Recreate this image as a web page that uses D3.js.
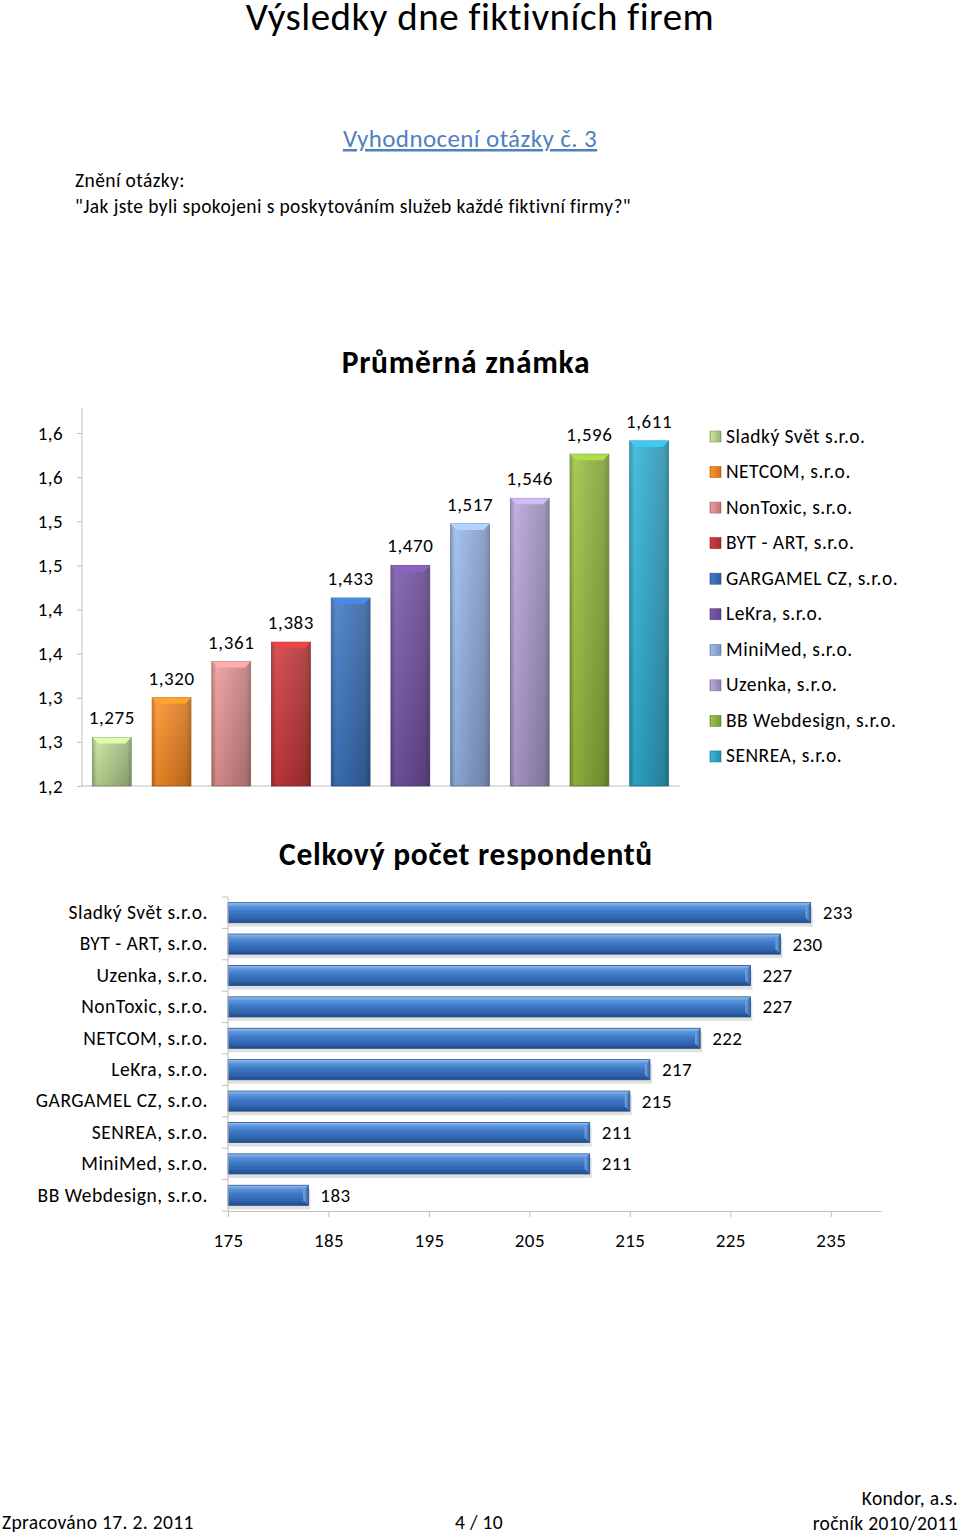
<!DOCTYPE html>
<html>
<head>
<meta charset="utf-8">
<script src="https://cdn.jsdelivr.net/npm/d3@7"></script>
<style>
  html, body { margin: 0; padding: 0; background: #fff; }
  svg { display: block; }
  text { font-family: Carlito, Lato, "Open Sans", sans-serif; fill: #000; }
</style>
</head>
<body>
<svg id="page" width="960" height="1537"></svg>
<script>
// ---------- DATA ----------
const topCategories = ["Sladký Svět s.r.o.", "NETCOM, s.r.o.", "NonToxic, s.r.o.", "BYT - ART, s.r.o.", "GARGAMEL CZ, s.r.o.", "LeKra, s.r.o.", "MiniMed, s.r.o.", "Uzenka, s.r.o.", "BB Webdesign, s.r.o.", "SENREA, s.r.o."];
const topValues = [1.275, 1.320, 1.361, 1.383, 1.433, 1.470, 1.517, 1.546, 1.596, 1.611];
const topColors = ["#b3cf8c", "#ee8424", "#d98c8c", "#c0363a", "#3a6fb6", "#70509f", "#8eaad9", "#a797c6", "#8db33c", "#2ea5c6"];
const topTicks = [1.22, 1.27, 1.32, 1.37, 1.42, 1.47, 1.52, 1.57, 1.62];

const botCategories = ["Sladký Svět s.r.o.", "BYT - ART, s.r.o.", "Uzenka, s.r.o.", "NonToxic, s.r.o.", "NETCOM, s.r.o.", "LeKra, s.r.o.", "GARGAMEL CZ, s.r.o.", "SENREA, s.r.o.", "MiniMed, s.r.o.", "BB Webdesign, s.r.o."];
const botValues = [233, 230, 227, 227, 222, 217, 215, 211, 211, 183];
const botTicks = [175, 185, 195, 205, 215, 225, 235];

// ---------- SETUP ----------
const svg = d3.select("#page");
const defs = svg.append("defs");
const fmtComma = d => d3.format(".3f")(d).replace(".", ",");
const fmtTick = d => d3.format(".1f")(d).replace(".", ",");
const FONT = "Carlito, Lato, 'Open Sans', sans-serif";
function body(sel, size, ls) {
  return sel.style("font-size", size + "px").style("letter-spacing", (ls == null ? 0.5 : ls) + "px").style("font-family", FONT);
}

// ---------- HEADER ----------
body(svg.append("text").attr("x", 480).attr("y", 30).attr("text-anchor", "middle"), 39, 0.5)
  .text("Výsledky dne fiktivních firem");
body(svg.append("text").attr("x", 470).attr("y", 147).attr("text-anchor", "middle"), 25, 0.4)
  .style("fill", "#4f81bd").style("text-decoration", "underline")
  .text("Vyhodnocení otázky č. 3");
body(svg.append("text").attr("x", 75).attr("y", 187), 19.5, 0.4).text("Znění otázky:");
body(svg.append("text").attr("x", 75).attr("y", 213), 19.5, 0.4)
  .text("\"Jak jste byli spokojeni s poskytováním služeb každé fiktivní firmy?\"");

// ---------- TOP CHART ----------
body(svg.append("text").attr("x", 466).attr("y", 373).attr("text-anchor", "middle"), 31.5, 0.7)
  .style("font-weight", "bold").text("Průměrná známka");

const x1 = d3.scaleBand().domain(topCategories).range([82, 679]).paddingInner(0.35).paddingOuter(0.175);
const y1 = d3.scaleLinear().domain([1.22, 1.62]).range([786, 433]);

topColors.forEach((c, i) => {
  const g = defs.append("linearGradient").attr("id", "vg" + i).attr("x1", 0).attr("x2", 1).attr("y1", 0).attr("y2", 0);
  g.append("stop").attr("offset", "0%").attr("stop-color", d3.color(c).darker(0.5));
  g.append("stop").attr("offset", "12%").attr("stop-color", d3.color(c).brighter(0.25));
  g.append("stop").attr("offset", "45%").attr("stop-color", c);
  g.append("stop").attr("offset", "88%").attr("stop-color", d3.color(c).darker(0.35));
  g.append("stop").attr("offset", "100%").attr("stop-color", d3.color(c).darker(0.9));
  const gv = defs.append("linearGradient").attr("id", "vs" + i).attr("x1", 0).attr("x2", 0).attr("y1", 0).attr("y2", 1);
  gv.append("stop").attr("offset", "0%").attr("stop-color", "#fff").attr("stop-opacity", 0.12);
  gv.append("stop").attr("offset", "100%").attr("stop-color", "#000").attr("stop-opacity", 0.12);
});

// axis
const yAxis1 = d3.axisLeft(y1).tickValues(topTicks).tickFormat(fmtTick).tickSize(5).tickPadding(14).tickSizeOuter(0);
const gy1 = svg.append("g").attr("transform", "translate(82,0)").call(yAxis1);
gy1.select(".domain").remove();
gy1.selectAll(".tick line").attr("stroke", "#bfbfbf");
body(gy1.selectAll(".tick text"), 19, 0.4);
svg.append("line").attr("x1", 82).attr("x2", 82).attr("y1", y1(1.648)).attr("y2", y1(1.22)).attr("stroke", "#bfbfbf");
svg.append("line").attr("x1", 82).attr("x2", 680).attr("y1", y1(1.22)).attr("y2", y1(1.22)).attr("stroke", "#bfbfbf");

const bars1 = svg.append("g").selectAll("g").data(topValues).join("g");
bars1.append("rect")
  .attr("x", (d, i) => x1(topCategories[i])).attr("width", x1.bandwidth())
  .attr("y", d => y1(d)).attr("height", d => y1(1.22) - y1(d))
  .attr("fill", (d, i) => `url(#vg${i})`)
  .attr("stroke", (d, i) => d3.color(topColors[i]).darker(1)).attr("stroke-width", 0.8);
bars1.append("rect")
  .attr("x", (d, i) => x1(topCategories[i])).attr("width", x1.bandwidth())
  .attr("y", d => y1(d)).attr("height", d => y1(1.22) - y1(d))
  .attr("fill", (d, i) => `url(#vs${i})`);
bars1.append("path")
  .attr("d", (d, i) => {
    const x0 = x1(topCategories[i]), w = x1.bandwidth(), t = y1(d), b = 6;
    return `M${x0},${t}L${x0 + w},${t}L${x0 + w - b},${t + b}L${x0 + b},${t + b}Z`;
  })
  .attr("fill", (d, i) => d3.color(topColors[i]).brighter(0.6));
body(bars1.append("text")
  .attr("x", (d, i) => x1(topCategories[i]) + x1.bandwidth() / 2)
  .attr("y", d => y1(d) - 13).attr("text-anchor", "middle"), 19, 0.6)
  .text(d => fmtComma(d));

// legend
const leg = svg.append("g").selectAll("g").data(topCategories).join("g")
  .attr("transform", (d, i) => `translate(710,${436 + i * 35.55})`);
leg.append("rect").attr("x", 0).attr("y", -5).attr("width", 11).attr("height", 11)
  .attr("fill", (d, i) => `url(#vg${i})`).attr("stroke", (d, i) => d3.color(topColors[i]).darker(0.8)).attr("stroke-width", 0.6);
body(leg.append("text").attr("x", 16).attr("y", 6.5), 19.5, 0.5).text(d => d);

// ---------- BOTTOM CHART ----------
body(svg.append("text").attr("x", 466).attr("y", 865).attr("text-anchor", "middle"), 31.5, 0.7)
  .style("font-weight", "bold").text("Celkový počet respondentů");

const x2 = d3.scaleLinear().domain([175, 240]).range([228, 881]);
const y2 = d3.scaleBand().domain(botCategories).range([897, 1211]).paddingInner(0.36).paddingOuter(0.18);

const hg = defs.append("linearGradient").attr("id", "hbar").attr("x1", 0).attr("x2", 0).attr("y1", 0).attr("y2", 1);
[["0%", "#9cc3f0"], ["18%", "#5b95dc"], ["45%", "#3f79c6"], ["80%", "#2e62ab"], ["100%", "#1f4a85"]]
  .forEach(s => hg.append("stop").attr("offset", s[0]).attr("stop-color", s[1]));
const hb = defs.append("linearGradient").attr("id", "hbev").attr("x1", 0).attr("x2", 1).attr("y1", 0).attr("y2", 0);
hb.append("stop").attr("offset", "0%").attr("stop-color", "#7fb0ea");
hb.append("stop").attr("offset", "100%").attr("stop-color", "#2c5ea3");

const bars2 = svg.append("g").selectAll("g").data(botValues).join("g");
bars2.append("rect")
  .attr("x", x2(175)).attr("y", (d, i) => y2(botCategories[i]) + 4)
  .attr("width", d => x2(d) - x2(175) + 2).attr("height", y2.bandwidth())
  .attr("fill", "#000").attr("opacity", 0.12);
bars2.append("rect")
  .attr("x", x2(175)).attr("y", (d, i) => y2(botCategories[i]))
  .attr("width", d => x2(d) - x2(175)).attr("height", y2.bandwidth())
  .attr("fill", "url(#hbar)").attr("stroke", "#234f8c").attr("stroke-width", 0.8);
bars2.append("path")
  .attr("d", (d, i) => {
    const e = x2(d), t = y2(botCategories[i]), h = y2.bandwidth(), b = 5;
    return `M${e - b},${t + b}L${e},${t}L${e},${t + h}L${e - b},${t + h - b}Z`;
  })
  .attr("fill", "url(#hbev)").attr("opacity", 0.9);
body(bars2.append("text")
  .attr("x", d => x2(d) + 12).attr("y", (d, i) => y2(botCategories[i]) + y2.bandwidth() / 2 + 6.5), 19, 0.4)
  .text(d => d);

// y axis
const gy2 = svg.append("g").attr("transform", `translate(${x2(175)},0)`)
  .call(d3.axisLeft(y2).tickSize(0).tickPadding(20));
gy2.select(".domain").remove();
body(gy2.selectAll(".tick text"), 19.5, 0.5);
svg.append("line").attr("x1", x2(175)).attr("x2", x2(175)).attr("y1", 897).attr("y2", 1211).attr("stroke", "#bfbfbf");
svg.append("g").selectAll("line").data(d3.range(botCategories.length + 1)).join("line")
  .attr("x1", x2(175) - 6).attr("x2", x2(175))
  .attr("y1", i => y2.range()[0] + i * y2.step())
  .attr("y2", i => y2.range()[0] + i * y2.step())
  .attr("stroke", "#bfbfbf");

// x axis
const gx2 = svg.append("g").attr("transform", "translate(0,1211)")
  .call(d3.axisBottom(x2).tickValues(botTicks).tickSize(6).tickPadding(17).tickSizeOuter(0));
gx2.select(".domain").attr("stroke", "#bfbfbf");
gx2.selectAll(".tick line").attr("stroke", "#bfbfbf");
body(gx2.selectAll(".tick text"), 19, 0.4);

// ---------- FOOTER ----------
body(svg.append("text").attr("x", 2).attr("y", 1529), 19.5, 0.35).text("Zpracováno 17. 2. 2011");
body(svg.append("text").attr("x", 479).attr("y", 1529).attr("text-anchor", "middle"), 19.5, 0.35).text("4 / 10");
body(svg.append("text").attr("x", 958).attr("y", 1505).attr("text-anchor", "end"), 19.5, 0.35).text("Kondor, a.s.");
body(svg.append("text").attr("x", 958).attr("y", 1530).attr("text-anchor", "end"), 19.5, 0.35).text("ročník 2010/2011");
</script>
</body>
</html>
